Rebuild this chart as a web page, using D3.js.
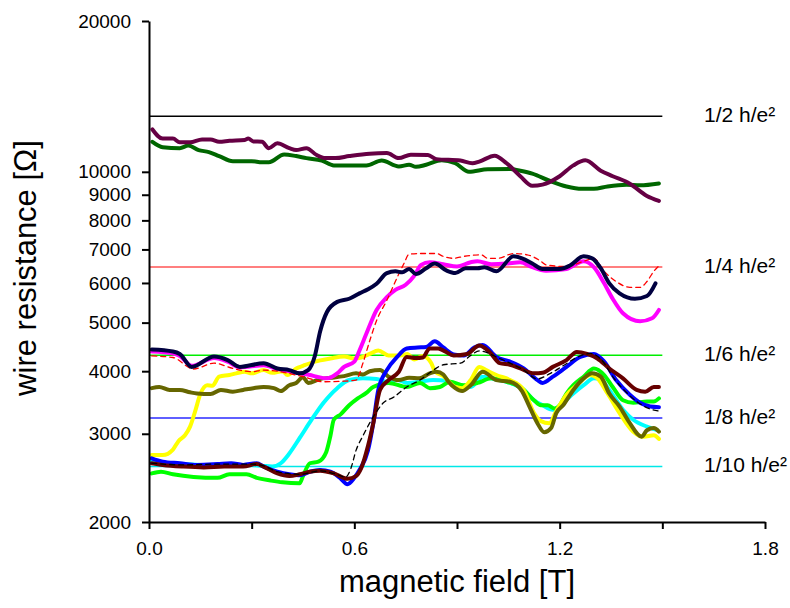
<!DOCTYPE html>
<html lang="en">
<head>
<meta charset="utf-8">
<style>
  body { margin: 0; background: #fff; }
  svg { display: block; font-family: "Liberation Sans", Arial, sans-serif; }
  .axis path, .axis line { stroke: #000; stroke-width: 2; }
  .axis text { font-size: 19px; fill: #000; font-family: "Liberation Sans", Arial, sans-serif; }
  .trace { fill: none; stroke-linejoin: round; stroke-linecap: round; }
  .title { font-size: 31px; fill: #000; }
  .plateau-label { font-size: 21px; fill: #000; }
</style>
<script src="https://cdn.jsdelivr.net/npm/d3@7"></script>
</head>
<body>
<svg width="790" height="608"></svg>
<script>

// resistance (ohm) vs magnetic field (T)
var purple = [[0.01,12150],[0.04,11650],[0.07,11650],[0.09,11450],[0.12,11450],[0.155,11600],[0.18,11600],[0.205,11480],[0.235,11530],[0.28,11580],[0.29,11650],[0.305,11500],[0.33,11480],[0.35,11150],[0.375,11400],[0.41,11150],[0.43,11050],[0.46,11150],[0.49,10800],[0.515,10650],[0.545,10650],[0.585,10750],[0.645,10870],[0.695,10900],[0.73,10650],[0.765,10820],[0.815,10800],[0.84,10600],[0.91,10530],[0.945,10400],[0.965,10480],[1.01,10770],[1.045,10400],[1.085,9800],[1.12,9380],[1.15,9430],[1.2,9800],[1.24,10300],[1.275,10540],[1.32,10050],[1.355,9800],[1.405,9470],[1.455,8950],[1.49,8750]];

var darkGreen = [[0.01,11480],[0.04,11200],[0.09,11150],[0.115,11280],[0.145,11050],[0.175,10950],[0.205,10750],[0.245,10500],[0.30,10500],[0.33,10450],[0.35,10450],[0.395,10830],[0.43,10750],[0.46,10650],[0.505,10530],[0.54,10300],[0.635,10300],[0.68,10530],[0.73,10250],[0.76,10330],[0.78,10230],[0.81,10330],[0.855,10550],[0.895,10400],[0.935,10000],[0.99,10120],[1.055,10130],[1.085,10050],[1.12,9920],[1.17,9600],[1.22,9350],[1.265,9250],[1.3,9250],[1.34,9350],[1.395,9420],[1.435,9400],[1.49,9480]];

var navy = [[0.008,4420],[0.07,4380],[0.09,4330],[0.125,4080],[0.19,4280],[0.23,4210],[0.265,4080],[0.335,4150],[0.375,4050],[0.41,4020],[0.44,3960],[0.465,4020],[0.485,4300],[0.5,4800],[0.52,5250],[0.55,5500],[0.585,5580],[0.615,5720],[0.64,5830],[0.665,5980],[0.695,6280],[0.72,6330],[0.74,6300],[0.76,6400],[0.78,6250],[0.81,6420],[0.835,6560],[0.87,6350],[0.895,6280],[0.925,6420],[0.96,6420],[0.98,6450],[1.015,6330],[1.065,6780],[1.09,6720],[1.12,6560],[1.15,6400],[1.2,6400],[1.23,6500],[1.27,6780],[1.295,6720],[1.32,6420],[1.345,5990],[1.375,5720],[1.42,5580],[1.455,5650],[1.48,5990]];

var magenta = [[0.008,4380],[0.07,4340],[0.09,4290],[0.125,4100],[0.19,4250],[0.23,4180],[0.265,4070],[0.335,4110],[0.375,4040],[0.41,4000],[0.44,3960],[0.47,3930],[0.49,3900],[0.52,3870],[0.55,3960],[0.57,4080],[0.6,4180],[0.615,4400],[0.635,4750],[0.665,5300],[0.695,5620],[0.72,5810],[0.75,5950],[0.775,6200],[0.795,6520],[0.82,6600],[0.86,6540],[0.9,6470],[0.94,6600],[0.96,6630],[1.0,6540],[1.045,6560],[1.085,6600],[1.12,6450],[1.16,6350],[1.22,6400],[1.27,6630],[1.3,6450],[1.33,5990],[1.355,5580],[1.385,5220],[1.435,5030],[1.47,5100],[1.49,5300]];

var redDashed = [[0.008,4290],[0.07,4260],[0.13,4040],[0.19,4150],[0.245,4050],[0.3,3990],[0.335,4020],[0.45,3900],[0.51,3810],[0.57,3820],[0.605,3840],[0.625,4150],[0.645,4600],[0.665,5050],[0.695,5540],[0.725,6150],[0.745,6560],[0.76,6850],[0.8,6870],[0.84,6870],[0.86,6780],[0.89,6720],[0.92,6780],[0.97,6830],[0.99,6720],[1.02,6720],[1.065,6870],[1.105,6830],[1.145,6630],[1.16,6520],[1.22,6470],[1.27,6630],[1.3,6720],[1.33,6330],[1.365,6040],[1.405,5880],[1.435,5880],[1.455,6040],[1.475,6330],[1.49,6490]];

var yellow = [[0.008,2720],[0.04,2720],[0.07,2790],[0.086,2900],[0.105,2980],[0.12,3100],[0.135,3330],[0.15,3600],[0.17,3750],[0.185,3740],[0.205,3900],[0.235,3930],[0.255,3960],[0.28,3990],[0.3,3960],[0.335,4020],[0.36,3970],[0.39,4000],[0.405,3930],[0.43,4050],[0.45,4100],[0.485,4180],[0.53,4240],[0.57,4280],[0.6,4240],[0.62,4260],[0.645,4330],[0.67,4400],[0.7,4300],[0.735,4300],[0.755,4330],[0.775,4220],[0.8,4290],[0.825,4150],[0.835,4000],[0.86,3910],[0.895,3720],[0.915,3700],[0.94,3840],[0.965,4080],[0.985,4020],[1.015,3930],[1.055,3840],[1.095,3670],[1.125,3300],[1.145,3180],[1.17,3150],[1.19,3330],[1.22,3590],[1.25,3750],[1.29,3930],[1.31,3870],[1.34,3610],[1.375,3300],[1.415,3030],[1.445,2960],[1.475,2980],[1.49,2930]];

var olive = [[0.008,3700],[0.03,3720],[0.06,3670],[0.09,3670],[0.12,3630],[0.14,3610],[0.18,3600],[0.21,3670],[0.245,3640],[0.275,3670],[0.305,3700],[0.335,3720],[0.365,3700],[0.385,3650],[0.41,3750],[0.43,3790],[0.45,3890],[0.465,3790],[0.5,3860],[0.53,3880],[0.57,3910],[0.605,3960],[0.625,3940],[0.645,4000],[0.675,4020],[0.7,3900],[0.73,3840],[0.76,3880],[0.79,3870],[0.82,3960],[0.84,3990],[0.86,3940],[0.875,3810],[0.895,3700],[0.915,3650],[0.94,3750],[0.975,3990],[1.015,3840],[1.055,3810],[1.09,3650],[1.11,3420],[1.135,3150],[1.155,3020],[1.175,3080],[1.19,3300],[1.21,3420],[1.24,3670],[1.27,3870],[1.295,3960],[1.32,3900],[1.345,3610],[1.375,3400],[1.405,3150],[1.44,2960],[1.455,3050],[1.475,3080],[1.49,3030]];

var cyan = [[0.008,2650],[0.05,2620],[0.1,2610],[0.15,2600],[0.2,2590],[0.25,2590],[0.3,2600],[0.33,2590],[0.36,2580],[0.385,2620],[0.41,2740],[0.44,2940],[0.475,3200],[0.51,3460],[0.55,3700],[0.585,3840],[0.625,3870],[0.665,3860],[0.695,3810],[0.725,3840],[0.755,3790],[0.79,3810],[0.83,3840],[0.87,3830],[0.9,3750],[0.94,3720],[0.975,3900],[1.015,3850],[1.055,3790],[1.095,3670],[1.125,3500],[1.15,3420],[1.18,3350],[1.21,3460],[1.24,3610],[1.27,3750],[1.3,3870],[1.32,3850],[1.345,3670],[1.385,3350],[1.415,3200],[1.455,3100],[1.485,3050]];

var green = [[0.008,2500],[0.035,2520],[0.07,2490],[0.13,2460],[0.2,2450],[0.235,2490],[0.285,2490],[0.315,2450],[0.355,2420],[0.39,2400],[0.44,2390],[0.45,2470],[0.47,2620],[0.495,2640],[0.518,2760],[0.53,2970],[0.54,3200],[0.56,3280],[0.585,3420],[0.61,3530],[0.635,3620],[0.655,3720],[0.7,3790],[0.753,3720],[0.792,3790],[0.821,3700],[0.85,3720],[0.88,3810],[0.92,3750],[0.96,3790],[1.0,3870],[1.045,3810],[1.085,3720],[1.125,3500],[1.145,3420],[1.165,3420],[1.185,3370],[1.2,3420],[1.22,3610],[1.24,3750],[1.27,3900],[1.3,4050],[1.33,3930],[1.355,3720],[1.385,3500],[1.415,3460],[1.455,3480],[1.475,3480],[1.49,3530]];

var blue = [[0.008,2680],[0.04,2640],[0.09,2620],[0.14,2600],[0.2,2610],[0.24,2620],[0.275,2600],[0.315,2620],[0.335,2580],[0.375,2520],[0.41,2490],[0.44,2480],[0.47,2520],[0.5,2540],[0.53,2520],[0.558,2450],[0.58,2380],[0.6,2450],[0.615,2540],[0.64,2780],[0.655,3140],[0.67,3670],[0.695,4020],[0.725,4270],[0.753,4440],[0.785,4460],[0.81,4470],[0.835,4590],[0.86,4460],[0.89,4320],[0.92,4300],[0.95,4460],[0.975,4510],[1.015,4270],[1.055,4180],[1.095,4050],[1.135,3840],[1.15,3790],[1.18,3900],[1.22,4080],[1.26,4270],[1.3,4330],[1.33,4180],[1.365,3840],[1.405,3590],[1.435,3460],[1.465,3400],[1.49,3390]];

var maroon = [[0.008,2620],[0.04,2600],[0.1,2580],[0.16,2570],[0.22,2580],[0.275,2580],[0.315,2610],[0.335,2580],[0.375,2500],[0.41,2470],[0.44,2490],[0.47,2520],[0.5,2530],[0.54,2500],[0.58,2440],[0.605,2470],[0.62,2560],[0.64,2840],[0.655,3140],[0.675,3670],[0.7,3840],[0.73,3990],[0.753,4270],[0.78,4250],[0.8,4260],[0.82,4440],[0.845,4440],[0.865,4380],[0.89,4300],[0.93,4330],[0.965,4500],[0.995,4370],[1.025,4150],[1.055,4120],[1.085,4050],[1.125,3960],[1.15,3970],[1.18,4080],[1.22,4210],[1.25,4370],[1.28,4330],[1.31,4240],[1.345,4050],[1.385,3870],[1.425,3670],[1.45,3640],[1.475,3720],[1.49,3720]];

var blackDashed = [[0.008,2620],[0.1,2600],[0.2,2610],[0.3,2610],[0.335,2590],[0.375,2520],[0.44,2490],[0.5,2530],[0.54,2500],[0.575,2460],[0.59,2560],[0.605,2780],[0.625,2970],[0.655,3240],[0.685,3460],[0.715,3550],[0.753,3720],[0.792,3840],[0.831,4020],[0.86,4120],[0.91,4150],[0.94,4300],[0.965,4390],[0.99,4350],[1.015,4270],[1.055,4150],[1.095,4020],[1.135,3860],[1.17,3950],[1.21,4100],[1.25,4260],[1.29,4340],[1.32,4230],[1.36,3860],[1.4,3600],[1.43,3460],[1.46,3370],[1.49,3330]];

// quantised plateaus: R = (h/e^2) / n
var hOverE2 = 25812.807;
var plateauN = [2, 4, 6, 8, 10];
var plateauLabels = ["1/2 h/e\u00b2", "1/4 h/e\u00b2", "1/6 h/e\u00b2", "1/8 h/e\u00b2", "1/10 h/e\u00b2"];
var plateauColors = ["#000000", "#ff5555", "#00ee00", "#2a2aff", "#00e8e8"];

var yTicks = [2000, 3000, 4000, 5000, 6000, 7000, 8000, 9000, 10000, 20000];
var xTicks = [0, 0.3, 0.6, 0.9, 1.2, 1.5, 1.8];
var xLabelled = [0, 0.6, 1.2, 1.8];

var svg = d3.select("svg");

var x = d3.scaleLinear().domain([0, 1.8]).range([149, 765]);
var y = d3.scaleLog().domain([2000, 20000]).range([522, 21]);

// plateau reference lines (behind the traces)
var refs = svg.append("g");
refs.selectAll("line")
    .data(plateauN)
    .enter()
    .append("line")
    .attr("x1", x(0))
    .attr("x2", x(1.5))
    .attr("y1", function(n) { return y(hOverE2 / n); })
    .attr("y2", function(n) { return y(hOverE2 / n); })
    .style("stroke", function(d, i) { return plateauColors[i]; })
    .style("stroke-width", 1.5);

refs.selectAll("text")
    .data(plateauN)
    .enter()
    .append("text")
    .attr("class", "plateau-label")
    .attr("x", 704)
    .attr("y", function(n) { return y(hOverE2 / n) + 6; })
    .text(function(d, i) { return plateauLabels[i]; });

// traces, drawn back to front
var traces = [
    { data: cyan, color: "#00ffff" },
    { data: green, color: "#00ff00" },
    { data: yellow, color: "#ffff00" },
    { data: olive, color: "#666600" },
    { data: blue, color: "#0000ff" },
    { data: maroon, color: "#660000" },
    { data: blackDashed, color: "#000000", dashed: true },
    { data: magenta, color: "#ff00ff" },
    { data: redDashed, color: "#ff0000", dashed: true },
    { data: navy, color: "#000040" },
    { data: darkGreen, color: "#006600" },
    { data: purple, color: "#660044" }
];

var line = d3.line()
    .x(function(d) { return x(d[0]); })
    .y(function(d) { return y(d[1]); })
    .curve(d3.curveMonotoneX);

svg.append("g")
    .selectAll("path")
    .data(traces)
    .enter()
    .append("path")
    .attr("class", "trace")
    .attr("d", function(d) { return line(d.data); })
    .attr("stroke", function(d) { return d.color; })
    .attr("stroke-width", function(d) { return d.dashed ? 1.3 : 4; })
    .attr("stroke-dasharray", function(d) { return d.dashed ? "5,4" : null; })
    .attr("stroke-linecap", function(d) { return d.dashed ? "butt" : "round"; });

// axes
svg.append("g")
    .attr("class", "axis")
    .attr("transform", "translate(" + x(0) + ",0)")
    .call(d3.axisLeft(y)
        .tickValues(yTicks)
        .tickFormat(d3.format("d"))
        .tickSize(7)
        .tickSizeOuter(0)
        .tickPadding(11));

svg.append("g")
    .attr("class", "axis")
    .attr("transform", "translate(0," + y(2000) + ")")
    .call(d3.axisBottom(x)
        .tickValues(xTicks)
        .tickFormat(function(d) { return xLabelled.indexOf(d) >= 0 ? d3.format(".1f")(d) : ""; })
        .tickSize(7)
        .tickSizeOuter(0)
        .tickPadding(13));

// axis titles
svg.append("text")
    .attr("class", "title")
    .attr("text-anchor", "middle")
    .attr("x", 457)
    .attr("y", 592)
    .text("magnetic field [T]");

svg.append("text")
    .attr("class", "title")
    .attr("text-anchor", "middle")
    .attr("transform", "translate(36,268) rotate(-90)")
    .text("wire resistance [\u03a9]");

</script>
</body>
</html>
